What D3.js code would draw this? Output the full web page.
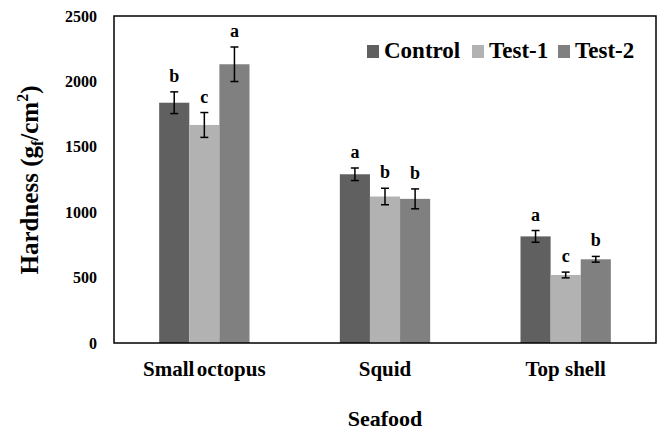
<!DOCTYPE html>
<html>
<head>
<meta charset="utf-8">
<script src="https://cdn.jsdelivr.net/npm/d3@7"></script>
<style>
  body { margin: 0; background: #fff; }
</style>
</head>
<body>
<div id="chart"></div>
<script>
const categories = ['Small octopus', 'Squid', 'Top shell'];
const series = ['Control', 'Test-1', 'Test-2'];
const control = [1837, 1290, 815];
const test1 = [1667, 1120, 520];
const test2 = [2131, 1102, 640];
const controlErr = [83, 48, 45];
const test1Err = [95, 63, 22];
const test2Err = [132, 76, 22];
const controlSig = ['b', 'a', 'a'];
const test1Sig = ['c', 'b', 'c'];
const test2Sig = ['a', 'b', 'b'];
const yTicks = [0, 500, 1000, 1500, 2000, 2500];
const colors = ['#606060', '#b2b2b2', '#808080'];

const SERIF = 'Liberation Serif';

const outerWidth = 664;
const outerHeight = 432;
const margin = { top: 16, right: 8, bottom: 89, left: 114 };
const width = outerWidth - margin.left - margin.right;
const height = outerHeight - margin.top - margin.bottom;

// rows: one per category, one value per series
const values = [control, test1, test2];
const errs = [controlErr, test1Err, test2Err];
const sigs = [controlSig, test1Sig, test2Sig];
const data = categories.map((c, i) => ({
  cat: c,
  bars: series.map((s, j) => ({ s, v: values[j][i], e: errs[j][i], sig: sigs[j][i] }))
}));

const svg = d3.select('#chart')
  .append('svg')
  .attr('width', outerWidth)
  .attr('height', outerHeight);

const g = svg.append('g')
  .attr('transform', `translate(${margin.left}, ${margin.top})`);

// Scales
const x0 = d3.scaleBand().domain(categories).range([0, width]);
const x1 = d3.scaleBand().domain(series).range([0, x0.bandwidth() / 2]);
const y = d3.scaleLinear().domain([0, 2500]).range([height, 0]);
const color = d3.scaleOrdinal().domain(series).range(colors);

// Bars
const groups = g.selectAll('.grp')
  .data(data)
  .join('g')
  .attr('class', 'grp')
  .attr('transform', d => `translate(${x0(d.cat) + x0.bandwidth() / 4}, 0)`);

groups.selectAll('rect')
  .data(d => d.bars)
  .join('rect')
  .attr('x', d => x1(d.s))
  .attr('y', d => y(d.v))
  .attr('width', x1.bandwidth())
  .attr('height', d => height - y(d.v))
  .attr('fill', d => color(d.s));

// Error bars
const eb = groups.selectAll('.eb')
  .data(d => d.bars)
  .join('g')
  .attr('class', 'eb')
  .attr('transform', d => `translate(${x1(d.s) + x1.bandwidth() / 2}, 0)`)
  .attr('stroke', '#000')
  .attr('stroke-width', 1.5);

eb.append('line').attr('y1', d => y(d.v + d.e)).attr('y2', d => y(d.v - d.e));
eb.append('line').attr('x1', -4).attr('x2', 4).attr('y1', d => y(d.v + d.e)).attr('y2', d => y(d.v + d.e));
eb.append('line').attr('x1', -4).attr('x2', 4).attr('y1', d => y(d.v - d.e)).attr('y2', d => y(d.v - d.e));

// Significance letters
groups.selectAll('.sig')
  .data(d => d.bars)
  .join('text')
  .attr('class', 'sig')
  .attr('x', d => x1(d.s) + x1.bandwidth() / 2)
  .attr('y', d => y(d.v + d.e) - 10)
  .attr('text-anchor', 'middle')
  .style('font-family', SERIF)
  .style('font-weight', 'bold')
  .style('font-size', '18px')
  .text(d => d.sig);

// Frame
g.append('rect')
  .attr('width', width)
  .attr('height', height)
  .attr('fill', 'none')
  .attr('stroke', '#000')
  .attr('stroke-width', 1.5);

// Axes
const yAxis = d3.axisLeft(y).tickValues(yTicks).tickFormat(d3.format('d')).tickSize(0).tickPadding(17);
const gy = g.append('g').call(yAxis);
gy.select('.domain').remove();
gy.selectAll('text')
  .style('font-family', SERIF)
  .style('font-weight', 'bold')
  .style('font-size', '16px')
  .attr('fill', '#000');

const xAxis = d3.axisBottom(x0).tickSize(0).tickPadding(18);
const gx = g.append('g').attr('transform', `translate(0, ${height})`).call(xAxis);
gx.select('.domain').remove();
gx.selectAll('text')
  .style('font-family', SERIF)
  .style('font-weight', 'bold')
  .style('font-size', '21px')
  .style('word-spacing', (d, i) => i === 0 ? '-3px' : null)
  .attr('fill', '#000');

// Axis titles
svg.append('text')
  .attr('x', margin.left + width / 2)
  .attr('y', 426)
  .attr('text-anchor', 'middle')
  .style('font-family', SERIF)
  .style('font-weight', 'bold')
  .style('font-size', '22px')
  .text('Seafood');

const yt = svg.append('text')
  .attr('transform', 'translate(38, 180) rotate(-90)')
  .attr('text-anchor', 'middle')
  .style('font-family', SERIF)
  .style('font-weight', 'bold')
  .style('font-size', '25px');
yt.append('tspan').text('Hardness (g');
yt.append('tspan').style('font-size', '16px').attr('dy', 5).text('f');
yt.append('tspan').attr('dy', -5).text('/cm');
yt.append('tspan').style('font-size', '16px').attr('dy', -10).text('2');
yt.append('tspan').attr('dy', 10).text(')');

// Legend
const legendX = [384, 489, 575];
const legend = svg.append('g')
  .selectAll('g')
  .data(series)
  .join('g')
  .attr('transform', (d, i) => `translate(${legendX[i]}, 58)`);
legend.append('rect')
  .attr('x', -17)
  .attr('y', -13)
  .attr('width', 12)
  .attr('height', 13)
  .attr('fill', d => color(d));
legend.append('text')
  .attr('x', 0)
  .attr('y', 0)
  .style('font-family', SERIF)
  .style('font-weight', 'bold')
  .style('font-size', '23px')
  .text(d => d);
</script>
</body>
</html>
